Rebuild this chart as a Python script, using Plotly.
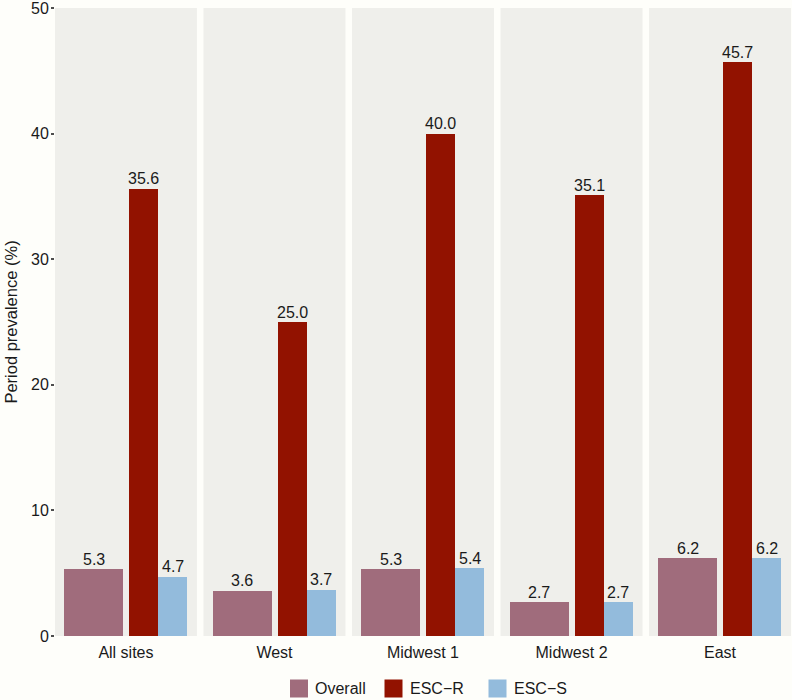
import plotly.graph_objects as go
from plotly.subplots import make_subplots

# ---- data ----
sites = ["All sites", "West", "Midwest 1", "Midwest 2", "East"]
series_names = ["Overall", "ESC\u2212R", "ESC\u2212S"]
overall = [5.3, 3.6, 5.3, 2.7, 6.2]
esc_r = [35.6, 25.0, 40.0, 35.1, 45.7]
esc_s = [4.7, 3.7, 5.4, 2.7, 6.2]
y_ticks = [0, 10, 20, 30, 40, 50]

# ---- style / layout constants ----
colors = ["#a06c7c", "#921200", "#93bbdc"]
panel_bg = "#efefeb"
paper_bg = "#fefefa"
font_family = "Liberation Sans, Arial, Helvetica, sans-serif"
# bar centre and width within each panel (panel x range is [0, 1])
bar_pos = [0.272, 0.626, 0.830]
bar_w = [0.412, 0.203, 0.207]

W, H = 792, 700
ML, MR, MT, MB = 55, 1, 8, 64
plot_w = W - ML - MR
plot_h = H - MT - MB
gap = 6.6

fig = make_subplots(rows=1, cols=5, shared_yaxes=True,
                    horizontal_spacing=gap / plot_w)

series = [overall, esc_r, esc_s]
for i, site in enumerate(sites):
    ax = "" if i == 0 else str(i + 1)
    for k, vals in enumerate(series):
        fig.add_trace(go.Bar(
            x=[bar_pos[k]], y=[vals[i]], width=[bar_w[k]],
            marker=dict(color=colors[k], line=dict(width=0)),
            name=series_names[k], showlegend=False, hoverinfo="skip",
        ), row=1, col=i + 1)
        fig.add_annotation(
            xref="x" + ax, yref="y" + ax, x=bar_pos[k], y=vals[i],
            text=f"{vals[i]:.1f}", showarrow=False,
            xanchor="center", yanchor="bottom", yshift=-0.5,
            font=dict(size=16, color="#1a1a1a", family=font_family))
    fig.update_xaxes(range=[0, 1], tickvals=[0.5], ticktext=[site],
                     showgrid=False, zeroline=False, showline=False,
                     ticks="", tickfont=dict(size=16, color="#1a1a1a"),
                     ticklabelstandoff=5,
                     fixedrange=True, row=1, col=i + 1)
    fig.update_yaxes(range=[0, 50], showgrid=False, zeroline=False,
                     showline=False, fixedrange=True, row=1, col=i + 1,
                     ticks="" if i > 0 else "outside")

fig.update_yaxes(tickvals=y_ticks, ticks="outside", ticklen=3, tickwidth=2,
                 tickcolor="#4d4d4d", tickfont=dict(size=16, color="#1a1a1a"),
                 ticklabeloverflow="allow", ticklabelstandoff=-1,
                 title=dict(text="Period prevalence (%)",
                            font=dict(size=16.5, color="#1a1a1a"), standoff=9),
                 row=1, col=1)

# ---- manual legend (keys as shapes, labels as text) ----
def px_x(px):
    return (px - ML) / plot_w

def px_y(py):
    return (H - MB - py) / plot_h

legend_items = [(290, 312.5), (384.5, 407.5), (488.5, 511.5)]
key = 18
cy = 688.5
for k, (kx, tx) in enumerate(legend_items):
    fig.add_shape(type="rect", xref="paper", yref="paper",
                  x0=px_x(kx), x1=px_x(kx + key),
                  y0=px_y(cy + key / 2), y1=px_y(cy - key / 2),
                  fillcolor=colors[k], line=dict(width=0))
    fig.add_annotation(xref="paper", yref="paper", x=px_x(tx), y=px_y(cy),
                       text=series_names[k], showarrow=False,
                       xanchor="left", yanchor="middle",
                       font=dict(size=16, color="#1a1a1a"))

fig.update_layout(
    width=W, height=H,
    margin=dict(l=ML, r=MR, t=MT, b=MB),
    plot_bgcolor=panel_bg, paper_bgcolor=paper_bg,
    barmode="overlay", bargap=0,
    font=dict(family=font_family, color="#1a1a1a"),
    showlegend=False,
)

fig.write_html(
    "out.html",
    config={"displayModeBar": False},
    post_script="document.body.style.margin='0';"
                "document.body.style.background='" + paper_bg + "';",
)
